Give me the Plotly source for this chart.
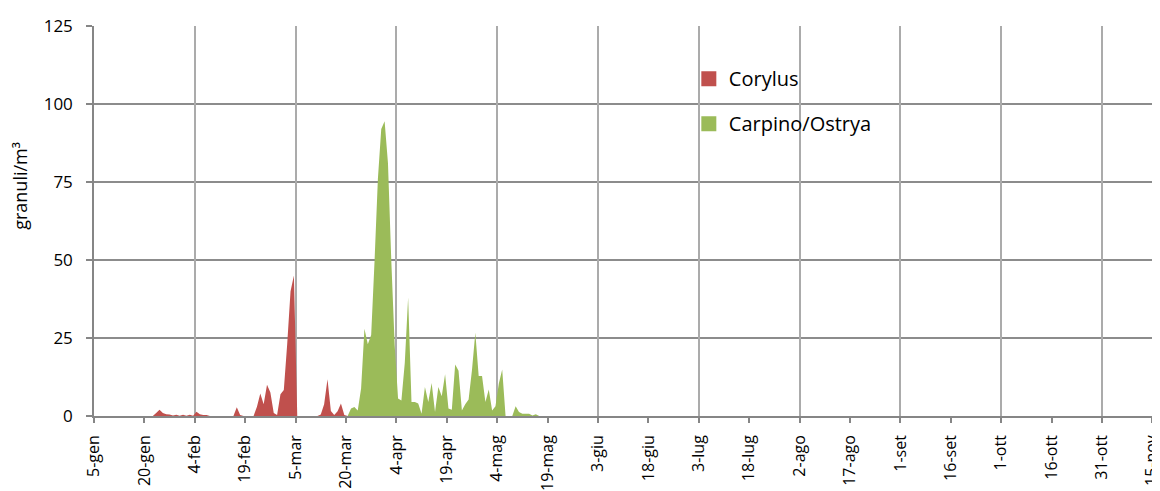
import pandas as pd
import plotly.graph_objects as go

# ---- data (daily pollen counts, granuli/m3) ----
corylus_start = "2016-01-05 12:00"
corylus = [0] * 18 + [
    1.0, 2.0, 1.0, 0.6, 0.5, 0.2, 0.4, 0.1, 0.4, 0.1, 0.4, 0.1,
    1.4, 0.6, 0.3, 0.3] + [0] * 8 + [
    2.8, 0.3] + [0] * 4 + [
    3.0, 7.2, 3.8, 10.0, 7.5, 1.0, 0.3, 7.0, 8.3, 23.0, 40.0, 45.0] + [0] * 7 + [
    0.5, 3.8, 11.8, 1.6, 0.3, 1.5, 4.0, 0.3, 0]

carpino_start = "2016-03-20 12:00"
carpino = [
    0, 2.4, 2.9, 1.8, 8.8, 28.0, 23.0, 26.0, 49.5, 76.0, 92.0, 94.5, 81.0,
    49.5, 22.7, 5.6, 5.0, 17.0, 38.0, 4.5, 4.5, 4.0, 0.7, 9.3, 4.5, 10.6,
    1.3, 9.3, 6.3, 13.4, 2.4, 2.0, 16.5, 14.5, 1.8, 3.8, 5.3, 14.7, 26.7,
    12.8, 12.8, 4.5, 8.5, 1.8, 3.1, 10.4, 14.9, 0, 0, 0, 3.1, 1.3, 0.7,
    0.7, 0.7, 0.2, 0.6, 0]

tick_labels = ["5-gen", "20-gen", "4-feb", "19-feb", "5-mar", "20-mar", "4-apr",
               "19-apr", "4-mag", "19-mag", "3-giu", "18-giu", "3-lug", "18-lug",
               "2-ago", "17-ago", "1-set", "16-set", "1-ott", "16-ott", "31-ott",
               "15-nov"]
y_ticks = [0, 25, 50, 75, 100, 125]

series_names = ["Corylus", "Carpino/Ostrya"]
colors = ["#C0504D", "#9BBB59"]

# ---- derived ----
x_cor = pd.date_range(corylus_start, periods=len(corylus), freq="D")
x_car = pd.date_range(carpino_start, periods=len(carpino), freq="D")
tick_vals = pd.date_range("2016-01-05", periods=len(tick_labels), freq="15D")
grid_vals = pd.date_range("2016-01-05", periods=11, freq="30D")
x_range = ["2016-01-05", "2016-11-17 07:00"]

fig = go.Figure()
for xs, ys, name, col in [(x_cor, corylus, series_names[0], colors[0]),
                          (x_car, carpino, series_names[1], colors[1])]:
    fig.add_trace(go.Scatter(x=xs, y=ys, mode="none", fill="tozeroy",
                             fillcolor=col, name=name, showlegend=False,
                             hoverinfo="skip"))
for name, col in zip(series_names, colors):
    fig.add_trace(go.Scatter(x=[None], y=[None], mode="markers", name=name,
                             legendgroup=name,
                             marker=dict(symbol="square", size=15, color=col)))
# invisible trace to host the gridline axis
fig.add_trace(go.Scatter(x=[grid_vals[0]], y=[None], xaxis="x2", mode="markers",
                         showlegend=False, hoverinfo="skip"))

axis_gray = "#868686"
# page body has an 8px default margin, so the figure is 8px smaller
fig.update_layout(
    width=1152, height=483,
    margin=dict(l=86, r=0, t=18, b=75, autoexpand=False),
    paper_bgcolor="white", plot_bgcolor="white",
    font=dict(family="Open Sans", color="black", size=16),
    legend=dict(x=0.558, y=0.915, xanchor="left", yanchor="top",
                bgcolor="rgba(0,0,0,0)", font=dict(size=20), tracegroupgap=16),
    xaxis=dict(type="date", range=x_range, tickmode="array", tickvals=tick_vals,
               ticktext=tick_labels, tickangle=-90, ticks="outside", ticklen=5,
               tickcolor=axis_gray, tickwidth=1.5, showline=True,
               linecolor=axis_gray, linewidth=1.5,
               showgrid=False, zeroline=False, automargin=False,
               ticklabeloverflow="allow",
               ticklabelstandoff=6, tickfont=dict(size=16)),
    xaxis2=dict(type="date", range=x_range, overlaying="x", anchor="y",
                tickmode="array", tickvals=grid_vals, showticklabels=False,
                ticks="", showgrid=True, gridcolor="#ABABAB", gridwidth=2,
                showline=False, zeroline=False, automargin=False),
    yaxis=dict(range=[0, 125], tickmode="array", tickvals=y_ticks,
               ticks="outside", ticklen=6, tickcolor=axis_gray, tickwidth=1.5,
               showline=True, linecolor=axis_gray, linewidth=1.5,
               showgrid=True, gridcolor="#8C8C8C", gridwidth=1.5,
               zeroline=False, automargin=False, ticklabelstandoff=10,
               tickfont=dict(size=17)),
    annotations=[dict(text="granuli/m³", xref="paper", yref="paper",
                      x=-0.0695, y=0.59, textangle=-90, showarrow=False,
                      xanchor="center", yanchor="middle", font=dict(size=18))],
)

fig.write_html("out.html")
